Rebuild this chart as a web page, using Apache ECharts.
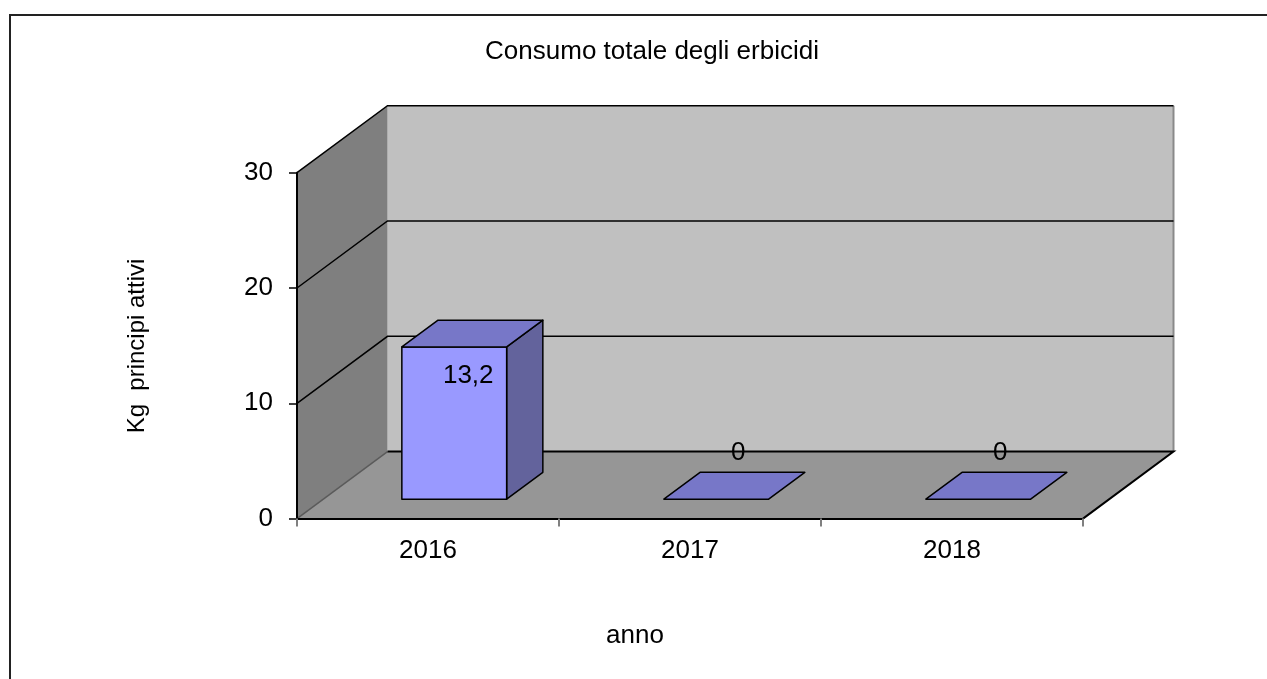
<!DOCTYPE html>
<html>
<head>
<meta charset="utf-8">
<script src="https://cdn.jsdelivr.net/npm/echarts@6/dist/echarts.min.js"></script>
<style>
  html, body { margin: 0; padding: 0; background: #fff; }
  #chart { width: 1267px; height: 679px; }
</style>
</head>
<body>
<div id="chart"></div>
<script>
// ---- data ----
const categories = ['2016', '2017', '2018'];
const values = [13.2, 0, 0];
const yTicks = [0, 10, 20, 30];
const titleText = 'Consumo totale degli erbicidi';
const xTitle = 'anno';
const yTitle = 'Kg  principi attivi';

// ---- 3D box geometry (screen-space depth vector) ----
const DX = 90.5, DY = -67;
const BAR_D0 = 0.29, BAR_D1 = 0.69;   // bar depth span as fraction of box depth
const BAR_W = 0.40;                   // bar width as fraction of category band
const FONT = '"Liberation Sans", Arial, sans-serif';
const FS = 26;

function pt(p, f) { return [p[0] + DX * f, p[1] + DY * f]; }
function fmt(v) { return String(v).replace('.', ','); }

// walls, floor and gridlines of the 3D box
function renderBox(params, api) {
  const cs = params.coordSys;
  const x0 = cs.x, x1 = cs.x + cs.width;
  const yb = api.coord([0, yTicks[0]])[1];
  const yt = api.coord([0, yTicks[yTicks.length - 1]])[1];
  const kids = [];
  kids.push({ type: 'polygon', shape: { points: [pt([x0, yt], 1), pt([x1, yt], 1), pt([x1, yb], 1), pt([x0, yb], 1)] },
              style: { fill: '#c0c0c0' } });
  kids.push({ type: 'polygon', shape: { points: [[x0, yb], [x0, yt], pt([x0, yt], 1), pt([x0, yb], 1)] },
              style: { fill: '#7f7f7f' } });
  kids.push({ type: 'polygon', shape: { points: [[x0, yb], [x1, yb], pt([x1, yb], 1), pt([x0, yb], 1)] },
              style: { fill: '#969696' } });
  // back wall right edge
  kids.push({ type: 'polyline', shape: { points: [pt([x1, yt], 1), pt([x1, yb], 1)] },
              style: { stroke: '#8a8a8a', lineWidth: 2, fill: null } });
  // floor left diagonal
  kids.push({ type: 'polyline', shape: { points: [[x0, yb], pt([x0, yb], 1)] },
              style: { stroke: '#5a5a5a', lineWidth: 1.5, fill: null } });
  // floor back edge + right diagonal
  kids.push({ type: 'polyline', shape: { points: [pt([x0, yb], 1), pt([x1, yb], 1), [x1, yb]] },
              style: { stroke: '#000', lineWidth: 2, fill: null } });
  // gridlines across left wall and back wall
  yTicks.slice(1).forEach(function (v) {
    const y = api.coord([0, v])[1];
    kids.push({ type: 'polyline', shape: { points: [[x0, y], pt([x0, y], 1), pt([x1, y], 1)] },
                style: { stroke: '#000', lineWidth: 1.5, fill: null } });
  });
  return { type: 'group', children: kids };
}

// one 3D column per category
function renderBar(params, api) {
  const i = api.value(0), v = api.value(1);
  const base = api.coord([i, 0]);
  const top = api.coord([i, v]);
  const w = api.size([1, 0])[0] * BAR_W;
  const l = base[0] - w / 2, r = base[0] + w / 2;
  const FBL = pt([l, base[1]], BAR_D0), FBR = pt([r, base[1]], BAR_D0);
  const FTL = pt([l, top[1]], BAR_D0), FTR = pt([r, top[1]], BAR_D0);
  const BTL = pt([l, top[1]], BAR_D1), BTR = pt([r, top[1]], BAR_D1);
  const BBR = pt([r, base[1]], BAR_D1);
  const edge = { stroke: '#000', lineWidth: 1.5, lineJoin: 'round' };
  const kids = [];
  if (v > 0) {
    kids.push({ type: 'polygon', shape: { points: [FTR, BTR, BBR, FBR] },
                style: Object.assign({ fill: '#63639c' }, edge) });
    kids.push({ type: 'polygon', shape: { points: [FBL, FBR, FTR, FTL] },
                style: Object.assign({ fill: '#9999ff' }, edge) });
  }
  kids.push({ type: 'polygon', shape: { points: [FTL, FTR, BTR, BTL] },
              style: Object.assign({ fill: '#7777c8' }, edge) });
  const cx = (FTL[0] + FTR[0]) / 2;
  const lx = v > 0 ? cx + 14 : cx + 22;
  const ly = v > 0 ? FTL[1] + 29 : FTL[1] - 46;
  kids.push({ type: 'text', x: lx, y: ly,
              style: { text: fmt(v), fill: '#000', font: FS + 'px ' + FONT, align: 'center', verticalAlign: 'middle' } });
  return { type: 'group', children: kids };
}

const chart = echarts.init(document.getElementById('chart'), null, { renderer: 'canvas' });
chart.setOption({
  backgroundColor: '#fff',
  animation: false,
  grid: { left: 297, top: 172.7, width: 786, height: 345.9, containLabel: false, outerBoundsMode: 'none' },
  xAxis: {
    type: 'category', data: categories, z: 5,
    axisLine: { lineStyle: { color: '#000', width: 2 } },
    axisTick: { show: true, length: 8, lineStyle: { color: '#808080', width: 2 } },
    axisLabel: { color: '#000', fontSize: FS, fontFamily: FONT, margin: 19 }
  },
  yAxis: {
    type: 'value', min: yTicks[0], max: yTicks[yTicks.length - 1], interval: 10, z: 5,
    axisLine: { show: true, lineStyle: { color: '#000', width: 2 } },
    axisTick: { show: true, length: 8, lineStyle: { color: '#000', width: 1.5 } },
    axisLabel: { color: '#000', fontSize: FS, fontFamily: FONT, margin: 24 },
    splitLine: { show: false }
  },
  series: [
    { type: 'custom', name: 'box', z: 1, silent: true, renderItem: renderBox, data: [[0, 0]] },
    { type: 'custom', name: 'Kg', z: 2, silent: true, renderItem: renderBar,
      encode: { x: 0, y: 1 }, data: values.map(function (v, i) { return [i, v]; }) }
  ],
  graphic: [
    { type: 'rect', shape: { x: 10, y: 15, width: 1300, height: 700 },
      style: { fill: null, stroke: '#222', lineWidth: 2 }, silent: true, z: -10 },
    { type: 'text', x: 652, y: 52,
      style: { text: titleText, fill: '#000', font: FS + 'px ' + FONT, align: 'center', verticalAlign: 'middle' } },
    { type: 'text', x: 635, y: 636,
      style: { text: xTitle, fill: '#000', font: FS + 'px ' + FONT, align: 'center', verticalAlign: 'middle' } },
    { type: 'text', x: 137, y: 346, rotation: Math.PI / 2,
      style: { text: yTitle, fill: '#000', font: '24px ' + FONT, align: 'center', verticalAlign: 'middle' } }
  ]
});
</script>
</body>
</html>
